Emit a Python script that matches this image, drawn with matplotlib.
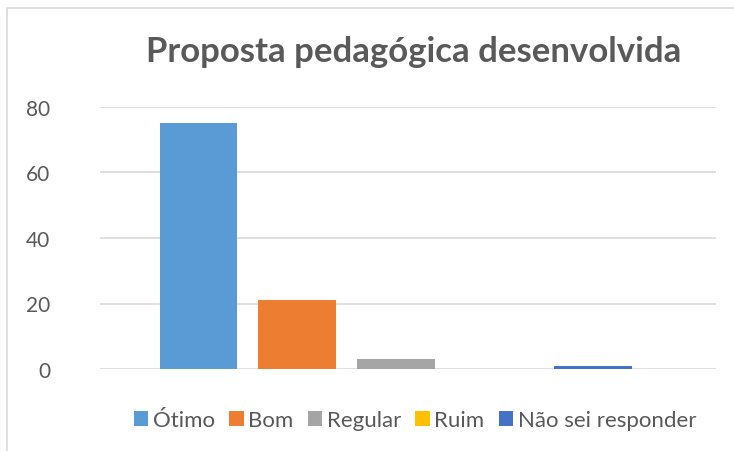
import matplotlib.pyplot as plt
from matplotlib.patches import Rectangle
import numpy as np

plt.rcParams['font.family'] = ['Lato', 'DejaVu Sans']

# data
categories = ['Ótimo', 'Bom', 'Regular', 'Ruim', 'Não sei responder']
values = [75, 21, 3, 0, 1]
colors = ['#5B9BD5', '#ED7D31', '#A5A5A5', '#FFC000', '#4472C4']
yticks = [0, 20, 40, 60, 80]

fig = plt.figure(figsize=(7.34, 4.52), dpi=100)
ax = fig.add_axes([100 / 734, 82 / 452, 616 / 734, 262 / 452])

x = np.arange(len(categories))
for i in range(len(categories)):
    ax.bar(x[i], values[i], width=0.79, color=colors[i], label=categories[i], zorder=3)

ax.set_xlim(-1.0, 5.25)
ax.set_ylim(0, 80)
ax.set_yticks(yticks)
ax.set_xticks([])
ax.grid(axis='y', color='#D9D9D9', linewidth=1.2, zorder=0)
ax.tick_params(axis='y', length=0, labelsize=15, labelcolor='#595959')
for t in ax.yaxis.get_major_ticks():
    t.set_pad(36)
for s in ax.spines.values():
    s.set_visible(False)

fig.text(414 / 734, 1 - 52 / 452, 'Proposta pedagógica desenvolvida',
         ha='center', va='center', fontsize=25, fontweight='bold', color='#595959')

fig.legend(loc='center', bbox_to_anchor=(415 / 734, 1 - 421 / 452), ncol=5,
           frameon=False, fontsize=16, handlelength=0.65, handleheight=0.65,
           handletextpad=0.2, columnspacing=0.65, labelcolor='#595959')

# outer chart border
fig.patches.append(Rectangle((7 / 734, -0.1), 1.1, 1 - 9 / 452 + 0.1,
                             transform=fig.transFigure, fill=False,
                             edgecolor='#D9D9D9', linewidth=1.2))

fig.savefig('out.png', dpi=100)
